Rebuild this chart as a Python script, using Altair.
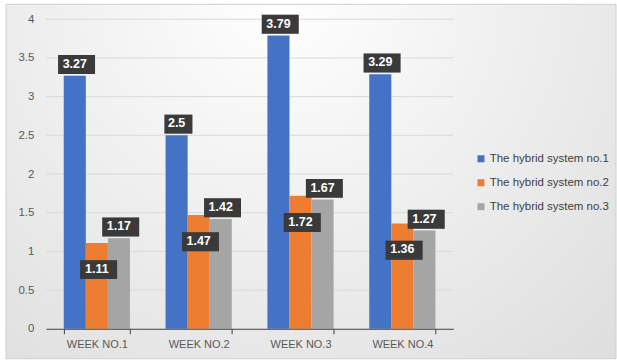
import altair as alt
import pandas as pd

WEEKS = ["WEEK NO.1", "WEEK NO.2", "WEEK NO.3", "WEEK NO.4"]
SYSTEMS = [
    "The hybrid system no.1",
    "The hybrid system no.2",
    "The hybrid system no.3",
]
SYSTEM_1 = [3.27, 2.5, 3.79, 3.29]
SYSTEM_2 = [1.11, 1.47, 1.72, 1.36]
SYSTEM_3 = [1.17, 1.42, 1.67, 1.27]
COLORS = ["#4472C4", "#ED7D31", "#A5A5A5"]
Y_TICKS = [0, 0.5, 1, 1.5, 2, 2.5, 3, 3.5, 4]

rows = []
for system, values in zip(SYSTEMS, [SYSTEM_1, SYSTEM_2, SYSTEM_3]):
    for week, v in zip(WEEKS, values):
        rows.append({"week": week, "system": system, "value": v})
df = pd.DataFrame(rows)
grid_df = pd.DataFrame({"value": Y_TICKS[1:]})

W, H = 408, 310
FONT = "Liberation Sans"
LABEL_GREY = "#595959"

# Data-label boxes are custom symbol paths; a symbol of size BOX_SIDE**2
# maps path units [-1, 1] onto BOX_SIDE pixels.
BOX_SIDE = 37
UNIT = BOX_SIDE / 2
BOX_H = 19
DY_OUT, DY_IN = -13, 25


def box_path(width, center_dy, shift=0.0):
    x0 = (-width / 2 + shift) / UNIT
    x1 = (width / 2 + shift) / UNIT
    y0 = (center_dy - BOX_H / 2 + shift) / UNIT
    y1 = (center_dy + BOX_H / 2 + shift) / UNIT
    return f"M{x0:.3f},{y0:.3f}H{x1:.3f}V{y1:.3f}H{x0:.3f}Z"


BOX_KEYS = ["out3", "out4", "in3", "in4"]


def box_paths(shift=0.0):
    return [
        box_path(28, DY_OUT, shift),
        box_path(37, DY_OUT, shift),
        box_path(28, DY_IN, shift),
        box_path(37, DY_IN, shift),
    ]


y_scale = alt.Scale(domain=[0, 4], nice=False)
y_axis = alt.Axis(
    title=None,
    values=Y_TICKS,
    format="~g",
    labelOverlap=False,
    domain=False,
    ticks=False,
    grid=False,
    zindex=1,
    labelColor=LABEL_GREY,
    labelFont=FONT,
    labelFontSize=11.5,
    labelPadding=12,
)

x_enc = alt.X(
    "week:N",
    sort=WEEKS,
    scale=alt.Scale(paddingInner=0.35, paddingOuter=0.175),
    axis=alt.Axis(
        title=None,
        labelAngle=0,
        tickBand="extent",
        grid=False,
        zindex=1,
        domainColor="#404040",
        tickColor="#404040",
        tickSize=5,
        labelColor=LABEL_GREY,
        labelFont=FONT,
        labelFontSize=11,
        labelPadding=5,
    ),
)
xo_enc = alt.XOffset("system:N", sort=SYSTEMS, scale=alt.Scale(paddingInner=0, paddingOuter=0))
y_enc = alt.Y("value:Q", scale=y_scale, axis=y_axis)

base = alt.Chart(df).encode(x=x_enc, xOffset=xo_enc, y=y_enc)

# Soft radial wash behind the whole chart, with a thin frame
background = (
    alt.Chart(pd.DataFrame({"k": [0]}))
    .mark_rect(
        fill={
            "gradient": "radial",
            "x1": 0.45, "y1": 0.2, "r1": 0,
            "x2": 0.45, "y2": 0.2, "r2": 0.85,
            "stops": [
                {"offset": 0, "color": "#ffffff"},
                {"offset": 1, "color": "#dcdcdc"},
            ],
        },
        stroke="#cfcfcf",
        strokeWidth=1,
    )
    .encode(x=alt.value(-40), x2=alt.value(571), y=alt.value(-15), y2=alt.value(340))
)

gridlines = (
    alt.Chart(grid_df)
    .mark_rule(color="#d9d9d9", strokeWidth=1)
    .encode(y=alt.Y("value:Q", scale=y_scale, axis=y_axis), x=alt.value(0), x2=alt.value(W))
)

bars = base.mark_bar().encode(
    color=alt.Color(
        "system:N",
        sort=SYSTEMS,
        scale=alt.Scale(domain=SYSTEMS, range=COLORS),
        legend=alt.Legend(
            title=None,
            orient="none",
            legendX=430,
            legendY=134,
            symbolType="square",
            symbolSize=49,
            symbolStrokeWidth=0,
            labelFont=FONT,
            labelFontSize=11.5,
            labelColor="#404040",
            labelOffset=3,
            rowPadding=11,
            zindex=1,
        ),
    )
)

labelled = base.transform_calculate(
    label="format(datum.value, '~g')"
).transform_calculate(
    box_key="(datum.system == '" + SYSTEMS[1] + "' ? 'in' : 'out') + length(datum.label)"
)

shadows = labelled.mark_point(filled=True, fill="#000000", opacity=0.22, size=BOX_SIDE ** 2).encode(
    shape=alt.Shape("box_key:N", scale=alt.Scale(domain=BOX_KEYS, range=box_paths(1.8)), legend=None)
)
boxes = labelled.mark_point(filled=True, fill="#3a3a3a", opacity=1, size=BOX_SIDE ** 2).encode(
    shape=alt.Shape("box_key:N", scale=alt.Scale(domain=BOX_KEYS, range=box_paths(0)), legend=None)
)

text_style = dict(color="white", font=FONT, fontSize=12.5, fontWeight="bold", baseline="middle")
labels_out = labelled.transform_filter(
    f"datum.system != '{SYSTEMS[1]}'"
).mark_text(dy=DY_OUT + 1, **text_style).encode(text="label:N")
labels_in = labelled.transform_filter(
    f"datum.system == '{SYSTEMS[1]}'"
).mark_text(dy=DY_IN + 1, **text_style).encode(text="label:N")

chart = (
    alt.layer(background, gridlines, bars, shadows, boxes, labels_out, labels_in)
    .properties(width=W, height=H, padding={"left": 5, "top": 3, "right": 0, "bottom": 4}, background="white")
    .configure_view(stroke=None)
)

chart.save("out.html", embed_options={"renderer": "svg", "actions": False})
